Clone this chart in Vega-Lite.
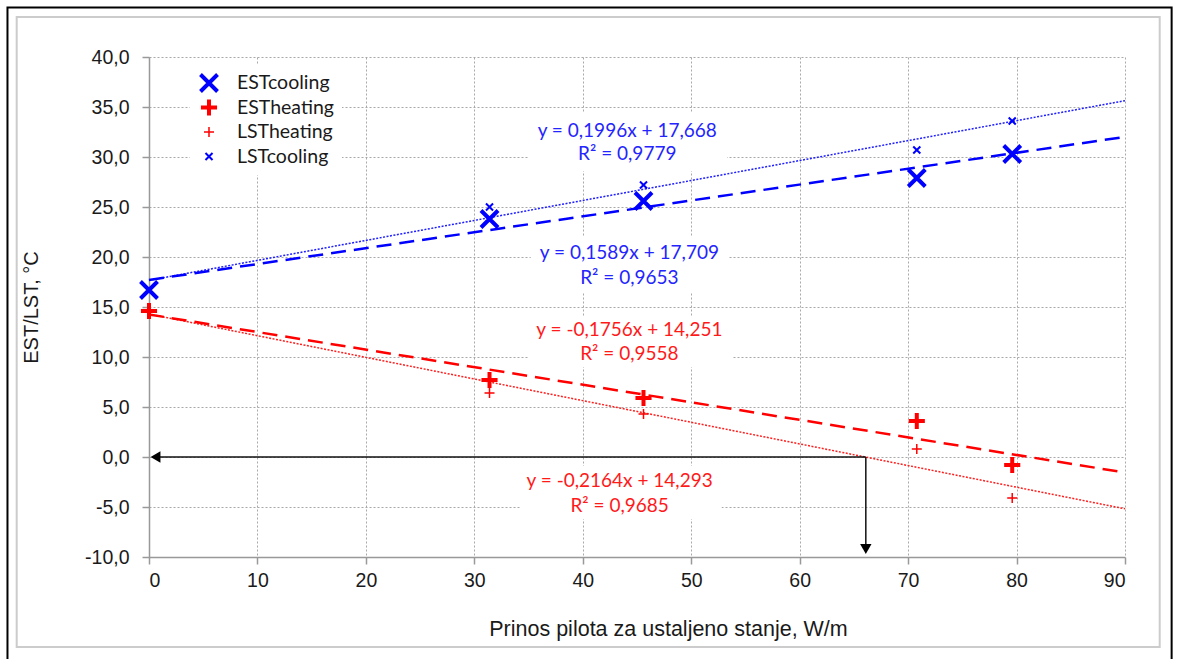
{
  "$schema": "https://vega.github.io/schema/vega-lite/v6.json",
  "width": 976,
  "height": 500,
  "autosize": {"type": "none"},
  "padding": {"left": 149, "top": 57, "right": 55, "bottom": 102},
  "background": "white",
  "config": {
    "locale": {"number": {"decimal": ",", "thousands": ".", "grouping": [3], "currency": ["", ""], "minus": "-"}},
    "view": {"stroke": null},
    "axis": {
      "labelFont": "Liberation Sans", "labelFontSize": 19.5, "labelColor": "#1a1a1a",
      "titleFont": "Liberation Sans", "titleFontSize": 20, "titleFontWeight": "normal", "titleColor": "#1a1a1a",
      "gridColor": "#a8a8a8", "gridDash": [2, 2], "gridWidth": 1,
      "domainColor": "#999999", "domainWidth": 1.5, "tickColor": "#999999", "tickWidth": 1.5, "tickSize": 7
    }
  },
  "datasets": {
    "pts": [
      {"s": "ESTcooling", "x": 0, "y": 16.7},
      {"s": "ESTcooling", "x": 31.4, "y": 23.8},
      {"s": "ESTcooling", "x": 45.6, "y": 25.6},
      {"s": "ESTcooling", "x": 70.8, "y": 27.9},
      {"s": "ESTcooling", "x": 79.6, "y": 30.3},
      {"s": "LSTcooling", "x": 31.4, "y": 25.0},
      {"s": "LSTcooling", "x": 45.6, "y": 27.2},
      {"s": "LSTcooling", "x": 70.8, "y": 30.7},
      {"s": "LSTcooling", "x": 79.6, "y": 33.6},
      {"s": "ESTheating", "x": 0, "y": 14.6},
      {"s": "ESTheating", "x": 31.4, "y": 7.7},
      {"s": "ESTheating", "x": 45.6, "y": 5.9},
      {"s": "ESTheating", "x": 70.8, "y": 3.6},
      {"s": "ESTheating", "x": 79.6, "y": -0.8},
      {"s": "LSTheating", "x": 31.4, "y": 6.4},
      {"s": "LSTheating", "x": 45.6, "y": 4.3},
      {"s": "LSTheating", "x": 70.8, "y": 0.8},
      {"s": "LSTheating", "x": 79.6, "y": -4.1}
    ],
    "trend": [
      {"s": "ESTcooling", "x": 0, "y": 17.709},
      {"s": "ESTcooling", "x": 90, "y": 32.01},
      {"s": "LSTcooling", "x": 0, "y": 17.668},
      {"s": "LSTcooling", "x": 90, "y": 35.632},
      {"s": "ESTheating", "x": 0, "y": 14.251},
      {"s": "ESTheating", "x": 90, "y": -1.553},
      {"s": "LSTheating", "x": 0, "y": 14.293},
      {"s": "LSTheating", "x": 90, "y": -5.183}
    ],
    "boxes": [
      {"x1": 35.0, "x2": 53.3, "y1": 34.4, "y2": 28.6},
      {"x1": 35.2, "x2": 53.4, "y1": 22.0, "y2": 16.4},
      {"x1": 35.0, "x2": 53.8, "y1": 14.1, "y2": 9.0},
      {"x1": 34.3, "x2": 52.8, "y1": -0.9, "y2": -6.2}
    ],
    "labels": [
      {"g": "blue", "x": 44.1, "y": 32.6, "t": "y = 0,1996x + 17,668"},
      {"g": "blue", "x": 44.1, "y": 30.3, "t": "R² = 0,9779"},
      {"g": "blue", "x": 44.3, "y": 20.4, "t": "y = 0,1589x + 17,709"},
      {"g": "blue", "x": 44.3, "y": 17.9, "t": "R² = 0,9653"},
      {"g": "red", "x": 44.3, "y": 12.7, "t": "y = -0,1756x + 14,251"},
      {"g": "red", "x": 44.3, "y": 10.3, "t": "R² = 0,9558"},
      {"g": "red", "x": 43.4, "y": -2.4, "t": "y = -0,2164x + 14,293"},
      {"g": "red", "x": 43.4, "y": -4.9, "t": "R² = 0,9685"}
    ],
    "arrows": [
      {"d": "h", "x1": 66.1, "y1": 0, "x2": 0.8, "y2": 0},
      {"d": "v", "x1": 66.1, "y1": 0, "x2": 66.1, "y2": -9.2}
    ],
    "heads": [
      {"d": "h", "x": 0.6, "y": 0},
      {"d": "v", "x": 66.1, "y": -9.2}
    ],
    "frames": [
      {"f": "outer", "x1": -13.05, "x2": 94.3, "y1": 44.95, "y2": -20.6},
      {"f": "inner", "x1": -12.2, "x2": 93.2, "y1": 44.0, "y2": -19.0}
    ]
  },
  "encoding": {
    "x": {"field": "x", "type": "quantitative", "scale": {"domain": [0, 90], "nice": false, "zero": false},
      "axis": {"values": [0, 10, 20, 30, 40, 50, 60, 70, 80, 90], "title": "Prinos pilota za ustaljeno stanje, W/m", "titleFontSize": 21.5, "titleX": 519, "labelPadding": 7, "titlePadding": 29, "format": "d"}},
    "y": {"field": "y", "type": "quantitative", "scale": {"domain": [-10, 40], "nice": false, "zero": false},
      "axis": {"values": [-10, -5, 0, 5, 10, 15, 20, 25, 30, 35, 40], "format": ".1f", "title": "EST/LST, °C", "labelPadding": 13, "titlePadding": 43}}
  },
  "layer": [
    {
      "data": {"name": "trend"},
      "transform": [{"filter": "datum.s === 'LSTcooling'"}],
      "mark": {"type": "line", "color": "#1f1fff", "strokeWidth": 1.5, "strokeDash": [2, 1.5]}
    },
    {
      "data": {"name": "trend"},
      "transform": [{"filter": "datum.s === 'ESTcooling'"}],
      "mark": {"type": "line", "color": "#0000ff", "strokeWidth": 2.5, "strokeDash": [15, 8]}
    },
    {
      "data": {"name": "trend"},
      "transform": [{"filter": "datum.s === 'LSTheating'"}],
      "mark": {"type": "line", "color": "#ff1f1f", "strokeWidth": 1.5, "strokeDash": [2, 1.5]}
    },
    {
      "data": {"name": "trend"},
      "transform": [{"filter": "datum.s === 'ESTheating'"}],
      "mark": {"type": "line", "color": "#ff0000", "strokeWidth": 2.5, "strokeDash": [15, 8]}
    },
    {
      "data": {"name": "boxes"},
      "mark": {"type": "rect", "fill": "white", "stroke": null},
      "encoding": {"x": {"field": "x1", "type": "quantitative"}, "x2": {"field": "x2"}, "y": {"field": "y1", "type": "quantitative"}, "y2": {"field": "y2"}}
    },
    {
      "data": {"name": "labels"},
      "transform": [{"filter": "datum.g === 'blue'"}],
      "mark": {"type": "text", "font": "Lato", "fontSize": 19, "color": "#2424ff", "align": "center", "baseline": "middle"},
      "encoding": {"text": {"field": "t"}}
    },
    {
      "data": {"name": "labels"},
      "transform": [{"filter": "datum.g === 'red'"}],
      "mark": {"type": "text", "font": "Lato", "fontSize": 19, "color": "#ff1a1a", "align": "center", "baseline": "middle"},
      "encoding": {"text": {"field": "t"}}
    },
    {
      "data": {"name": "arrows"},
      "mark": {"type": "rule", "color": "#111111", "strokeWidth": 1.5},
      "encoding": {"x": {"field": "x1", "type": "quantitative"}, "x2": {"field": "x2"}, "y": {"field": "y1", "type": "quantitative"}, "y2": {"field": "y2"}}
    },
    {
      "data": {"name": "heads"},
      "transform": [{"filter": "datum.d === 'h'"}],
      "mark": {"type": "point", "shape": "triangle-left", "filled": true, "color": "#000000", "size": 130, "opacity": 1}
    },
    {
      "data": {"name": "heads"},
      "transform": [{"filter": "datum.d === 'v'"}],
      "mark": {"type": "point", "shape": "triangle-down", "filled": true, "color": "#000000", "size": 130, "opacity": 1}
    },
    {
      "data": {"name": "pts"},
      "mark": {"type": "point", "filled": false, "opacity": 1},
      "encoding": {
        "color": {"field": "s", "type": "nominal",
          "scale": {"type": "ordinal", "domain": ["ESTcooling", "ESTheating", "LSTheating", "LSTcooling"], "range": ["#0000ff", "#ff0000", "#ff0000", "#0000ff"]},
          "legend": {"title": null, "orient": "none", "legendX": 41, "legendY": 8, "fillColor": "white", "padding": 8,
            "labelFont": "Lato", "labelFontSize": 19.5, "labelColor": "#1a1a1a", "labelOffset": 17, "rowPadding": 4.5, "clipHeight": 20, "symbolFillColor": "transparent"}},
        "shape": {"field": "s", "type": "nominal",
          "scale": {"type": "ordinal", "domain": ["ESTcooling", "ESTheating", "LSTheating", "LSTcooling"],
            "range": ["M-1,-1L1,1M1,-1L-1,1", "M-1,0L1,0M0,-1L0,1", "M-1,0L1,0M0,-1L0,1", "M-1,-1L1,1M1,-1L-1,1"]}},
        "size": {"field": "s", "type": "nominal",
          "scale": {"type": "ordinal", "domain": ["ESTcooling", "ESTheating", "LSTheating", "LSTcooling"], "range": [290, 260, 100, 50]}},
        "strokeWidth": {"field": "s", "type": "nominal",
          "scale": {"type": "ordinal", "domain": ["ESTcooling", "ESTheating", "LSTheating", "LSTcooling"], "range": [4, 4, 1.5, 2]}}
      }
    },
    {
      "data": {"name": "frames"},
      "transform": [{"filter": "datum.f === 'inner'"}],
      "mark": {"type": "rect", "fill": null, "stroke": "#cccccc", "strokeWidth": 2, "clip": false},
      "encoding": {"x": {"field": "x1", "type": "quantitative"}, "x2": {"field": "x2"}, "y": {"field": "y1", "type": "quantitative"}, "y2": {"field": "y2"}}
    },
    {
      "data": {"name": "frames"},
      "transform": [{"filter": "datum.f === 'outer'"}],
      "mark": {"type": "rect", "fill": null, "stroke": "#000000", "strokeWidth": 2, "clip": false},
      "encoding": {"x": {"field": "x1", "type": "quantitative"}, "x2": {"field": "x2"}, "y": {"field": "y1", "type": "quantitative"}, "y2": {"field": "y2"}}
    }
  ]
}
